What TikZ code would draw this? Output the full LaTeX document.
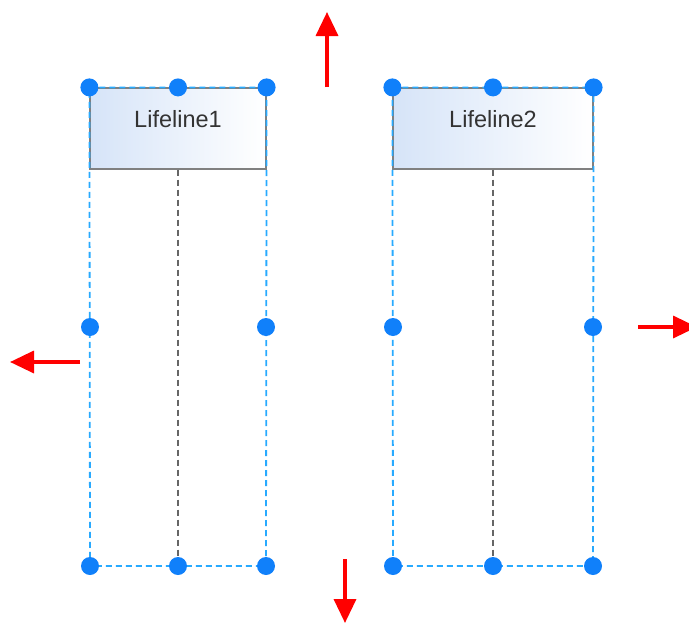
\documentclass[tikz,border=0pt]{standalone}
\usepackage{fontspec}
\setmainfont{Liberation Sans}
\usetikzlibrary{arrows.meta}
\definecolor{alcaazul}{RGB}{16,128,250}
\definecolor{selazul}{RGB}{40,170,255}
\definecolor{fundo}{RGB}{214,228,248}
\definecolor{texto}{RGB}{51,51,51}
\begin{document}
\begin{tikzpicture}[
  x=1pt, y=-1pt,
  caixa/.style={draw=gray, line width=1.2pt, left color=fundo, right color=white, minimum height=81pt, inner ysep=22pt, text height=17pt, text depth=20pt, font=\fontsize{23.5}{27}\selectfont, text=texto},
  selecao/.style={draw=selazul, line width=1.8pt, dash pattern=on 6pt off 4pt},
  vida/.style={draw=gray!80!black, line width=1.3pt, dash pattern=on 6pt off 4pt},
  alca/.style={circle, fill=alcaazul, inner sep=0pt, minimum size=18pt},
  seta/.style={-{Triangle[length=24pt, width=22pt]}, red, line width=3.5pt}
]
\useasboundingbox (0,0) rectangle (689,624);
\clip (0,0) rectangle (689,624);
\node[caixa, minimum width=176pt] (v1) at (178,128.5) {Lifeline1};
\node[caixa, minimum width=200pt] (v2) at (493,128.5) {Lifeline2};
% alcas laterais e de baixo
\coordinate (v1-w) at (90,327);
\coordinate (v1-e) at (266,327);
\coordinate (v1-sw) at (90,566);
\coordinate (v1-s) at (178,566);
\coordinate (v1-se) at (266,566);
\coordinate (v2-w) at (393,327);
\coordinate (v2-e) at (593,327);
\coordinate (v2-sw) at (393,566);
\coordinate (v2-s) at (493,566);
\coordinate (v2-se) at (593,566);
\draw[selecao] (v1.north west) -- (v1.north east) -- (v1-se) -- (v1-sw) -- cycle;
\draw[selecao] (v2.north west) -- (v2.north east) -- (v2-se) -- (v2-sw) -- cycle;
\draw[vida] (v1.south) -- (v1-s);
\draw[vida] (v2.south) -- (v2-s);
\foreach \a [count=\i] in {v1.north west, v1.north, v1.north east, v1-w, v1-e, v1-sw, v1-s, v1-se, v2.north west, v2.north, v2.north east, v2-w, v2-e, v2-sw, v2-s, v2-se}
  \node[alca] (alca\i) at (\a) {};
% setas
\coordinate (cima0) at (327,87);
\coordinate (cima1) at (327,12);
\coordinate (baixo0) at (345,559);
\coordinate (baixo1) at (345,623);
\coordinate (esq0) at (80,362);
\coordinate (esq1) at (10,362);
\coordinate (dir0) at (638,327);
\coordinate (dir1) at (697,327);
\draw[seta] (cima0) -- (cima1);
\draw[seta] (baixo0) -- (baixo1);
\draw[seta] (esq0) -- (esq1);
\draw[seta] (dir0) -- (dir1);
\end{tikzpicture}
\end{document}
